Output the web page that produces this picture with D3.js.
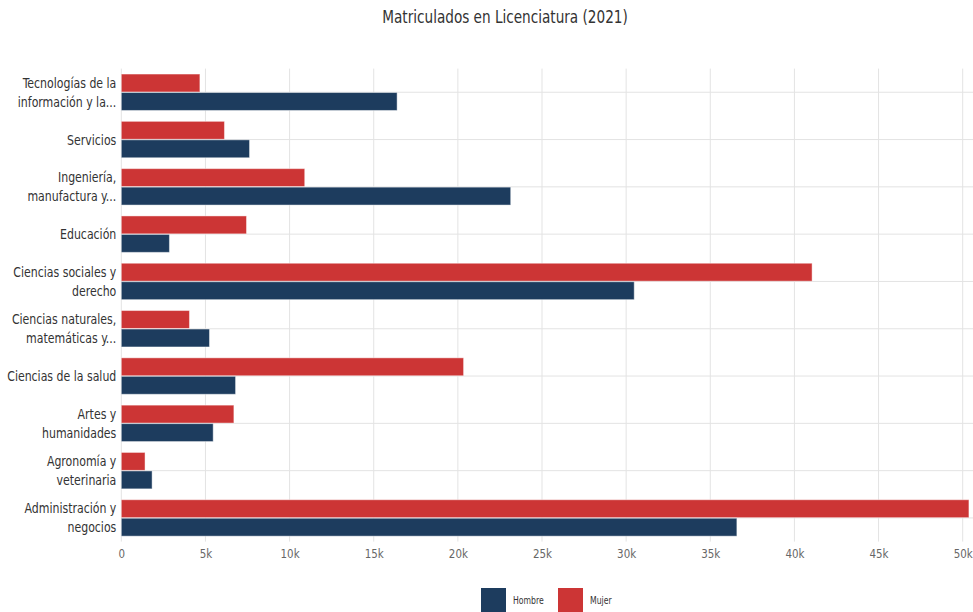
<!DOCTYPE html>
<html>
<head>
<meta charset="utf-8">
<script src="https://cdn.jsdelivr.net/npm/d3@7"></script>
<style>
  html, body { margin: 0; padding: 0; background: #fff; }
  svg { display: block; font-family: "DejaVu Sans Condensed", "DejaVu Sans", sans-serif; font-stretch: condensed; }
</style>
</head>
<body>
<svg id="chart" width="973" height="612"></svg>
<script>
const title = "Matriculados en Licenciatura (2021)";
const categories = [
  ["Tecnologías de la", "información y la..."],
  ["Servicios"],
  ["Ingeniería,", "manufactura y..."],
  ["Educación"],
  ["Ciencias sociales y", "derecho"],
  ["Ciencias naturales,", "matemáticas y..."],
  ["Ciencias de la salud"],
  ["Artes y", "humanidades"],
  ["Agronomía y", "veterinaria"],
  ["Administración y", "negocios"]
];
const seriesNames = ["Mujer", "Hombre"];
const mujer  = [4670, 6130, 10900, 7440, 41050, 4050, 20340, 6690, 1410, 50370];
const hombre = [16390, 7620, 23140, 2860, 30480, 5240, 6790, 5460, 1830, 36580];
const xTicks = [0, 5000, 10000, 15000, 20000, 25000, 30000, 35000, 40000, 45000, 50000];
const legendOrder = ["Hombre", "Mujer"];
const colors = { Hombre: "#1d3c5e", Mujer: "#cc3535" };

const svg = d3.select("#chart");
const mLeft = 121.3, mRight = 962.7, mTop = 68.6, mBottom = 541.6;
const squeeze = 0.87;

const catIdx = d3.range(categories.length);
const x = d3.scaleLinear().domain([0, 50000]).range([mLeft, mRight]);
const y0 = d3.scaleBand().domain(catIdx).range([mTop, mBottom]).padding(0);
const y1 = d3.scaleBand().domain(seriesNames)
  .range([y0.bandwidth() * 0.115, y0.bandwidth() * 0.885]).paddingInner(0.03);

// title
svg.append("text").attr("transform", `translate(505,23) scale(0.89,1)`)
  .attr("text-anchor", "middle")
  .attr("font-size", 17).attr("fill", "#333").text(title);

// vertical grid
svg.append("g").selectAll("line").data(xTicks).join("line")
  .attr("x1", d => x(d)).attr("x2", d => x(d))
  .attr("y1", mTop).attr("y2", mBottom)
  .attr("stroke", "#e3e3e3").attr("stroke-width", 1);

// horizontal grid at category centers
svg.append("g").selectAll("line").data(catIdx).join("line")
  .attr("x1", mLeft).attr("x2", 973)
  .attr("y1", d => y0(d) + y0.bandwidth() / 2).attr("y2", d => y0(d) + y0.bandwidth() / 2)
  .attr("stroke", "#e3e3e3").attr("stroke-width", 1);

// bars
const rows = catIdx.map(i => ({ i, Mujer: mujer[i], Hombre: hombre[i] }));
const groups = svg.append("g").selectAll("g").data(rows).join("g")
  .attr("transform", d => `translate(0,${y0(d.i)})`);
groups.selectAll("rect").data(d => seriesNames.map(s => ({ s, v: d[s] }))).join("rect")
  .attr("x", x(0))
  .attr("y", d => y1(d.s))
  .attr("width", d => x(d.v) - x(0))
  .attr("height", y1.bandwidth())
  .attr("fill", d => colors[d.s])
  .attr("stroke", "rgba(255,255,255,0.45)")
  .attr("stroke-width", 1);

// x axis labels
const xAxis = d3.axisBottom(x).tickValues(xTicks)
  .tickFormat(d => d === 0 ? "0" : (d / 1000) + "k").tickSize(0).tickPadding(0);
const gx = svg.append("g").attr("transform", `translate(0,${mBottom})`).call(xAxis);
gx.attr("font-family", null);
gx.select(".domain").remove();
gx.selectAll("text").attr("font-size", 13).attr("fill", "#666")
  .attr("y", 0).attr("dy", 0)
  .attr("transform", "translate(0,16) scale(0.88,1)");

// y axis labels
const yAxis = d3.axisLeft(d3.scaleBand().domain(catIdx).range([mTop, mBottom])).tickSize(0).tickFormat("");
const gy = svg.append("g").attr("transform", `translate(${mLeft},0)`).call(yAxis);
gy.attr("font-family", null);
gy.select(".domain").remove();
gy.selectAll(".tick").each(function (d) {
  const lines = categories[d];
  const t = d3.select(this).append("text")
    .attr("transform", `translate(-5,0) scale(${squeeze},1)`)
    .attr("text-anchor", "end")
    .attr("font-size", 14).attr("fill", "#333");
  const lh = 19;
  lines.forEach((ln, k) => {
    t.append("tspan").attr("x", 0)
      .attr("y", (k - (lines.length - 1) / 2) * lh + 5)
      .text(ln);
  });
});

// legend
const legend = svg.append("g");
const legendX = { Hombre: 481, Mujer: 558 };
legendOrder.forEach(s => {
  const g = legend.append("g").attr("transform", `translate(${legendX[s]},588)`);
  g.append("rect").attr("width", 25).attr("height", 25).attr("fill", colors[s]);
  g.append("text").attr("transform", `translate(32,16) scale(0.86,1)`)
    .attr("font-size", 10).attr("fill", "#333").text(s);
});
</script>
</body>
</html>
